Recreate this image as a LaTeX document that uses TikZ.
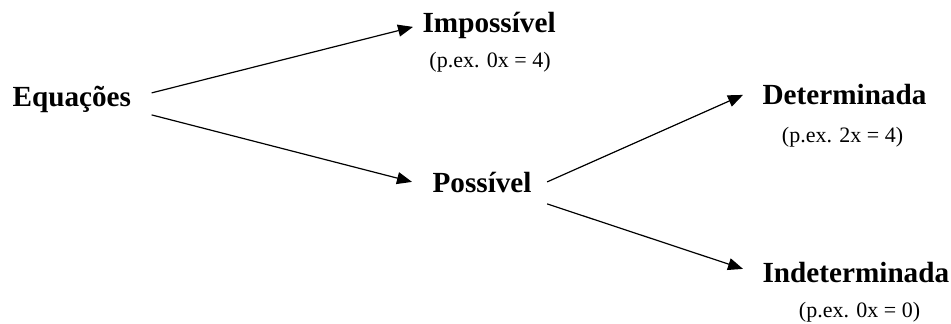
\documentclass[tikz,border=0pt]{standalone}
\usepackage{fontspec}
\setmainfont{Liberation Serif}
\usetikzlibrary{arrows.meta}

\tikzset{
    termo/.style={inner sep=0pt, anchor=base west, font=\fontsize{14.6}{17}\selectfont\bfseries},
    exemplo/.style={inner sep=0pt, anchor=base, font=\fontsize{11}{13}\selectfont}
}

\begin{document}
\begin{tikzpicture}[x=0.5pt, y=-0.5pt, >={Triangle[length=7.5pt, width=6pt]}, line width=0.6pt]
            \useasboundingbox (0,0) rectangle (951,324);

            \node[termo] (eq) at (12,107) {Equações};
            \node[termo] (imp) at (422,33) {Impossível};
            \node[exemplo] (ex1) at (490,68) {(p.ex. 0x = 4)};
            \node[termo] (pos) at (432,193) {Possível};
            \node[termo] (det) at (762,105) {Determinada};
            \node[exemplo] (ex2) at (842.5,143) {(p.ex. 2x = 4)};
            \node[termo] (ind) at (762,283) {Indeterminada};
            \node[exemplo] (ex3) at (859.5,318) {(p.ex. 0x = 0)};

            \path[->]
            ([shift={(10pt,4.75pt)}]eq.mid east) edge ([shift={(-4.5pt,0.75pt)}]imp.mid west)
            ([shift={(10pt,-6.25pt)}]eq.mid east) edge ([shift={(-10pt,3.25pt)}]pos.mid west)
            ([shift={(7.5pt,3.25pt)}]pos.mid east) edge ([shift={(-9.5pt,2.75pt)}]det.mid west)
            ([shift={(7.5pt,-7.75pt)}]pos.mid east) edge ([shift={(-9.5pt,4.75pt)}]ind.mid west);
        \end{tikzpicture}
\end{document}
